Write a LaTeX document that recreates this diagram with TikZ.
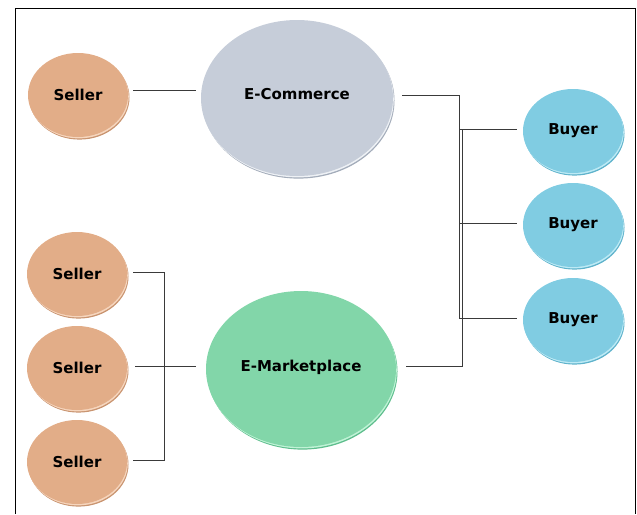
\documentclass[tikz,border=0pt]{standalone}
\usepackage{fontspec}
\setmainfont{DejaVu Sans}
\usetikzlibrary{shapes.geometric,shadows}
\definecolor{selC}{HTML}{E2AD88}
\definecolor{selD}{HTML}{C99470}
\definecolor{selL}{HTML}{F6D6BE}
\definecolor{ecC}{HTML}{C6CDD9}
\definecolor{ecD}{HTML}{A3ACBA}
\definecolor{ecL}{HTML}{EEF1F5}
\definecolor{buyC}{HTML}{80CCE2}
\definecolor{buyD}{HTML}{5EB2CB}
\definecolor{buyL}{HTML}{BDEAF5}
\definecolor{emC}{HTML}{82D6A9}
\definecolor{emD}{HTML}{5DBD8C}
\definecolor{emL}{HTML}{C0F3D6}
\definecolor{lineC}{HTML}{3A3A3A}
\tikzset{
  disc/.style n args={3}{ellipse, inner sep=0pt, fill=#1,
    general shadow={fill=#2, shadow xshift=1.5pt, shadow yshift=-2.6pt},
    general shadow={fill=#3, shadow xshift=0.8pt, shadow yshift=-1.4pt},
    font=\fontsize{15}{17}\selectfont\bfseries},
  small/.style={minimum width=100pt, minimum height=84pt},
  big/.style={minimum width=192pt, minimum height=156pt},
  conn/.style={draw=lineC, line width=0.8pt}
}
\begin{document}
\begin{tikzpicture}[x=1pt,y=-1pt]
\useasboundingbox (0,0) rectangle (637,514);
\draw[line width=1pt] (15,514) -- (15,8) -- (635,8) -- (635,514);
% nodes
\node[disc={selC}{selD}{selL}, small] (s1) at (78,95) {Seller};
\node[disc={selC}{selD}{selL}, small] (s2) at (77,274) {Seller};
\node[disc={selC}{selD}{selL}, small] (s3) at (77,368) {Seller};
\node[disc={selC}{selD}{selL}, small] (s4) at (77,462) {Seller};
\node[disc={ecC}{ecD}{ecL}, big] (ec) at (297,98) {\raisebox{-1.5pt}[0pt][0pt]{E-Commerce}};
\node[disc={emC}{emD}{emL}, minimum width=190pt, minimum height=156pt] (em) at (301,369) {\raisebox{-2.5pt}[0pt][0pt]{E-Marketplace}};
\node[disc={buyC}{buyD}{buyL}, small] (b1) at (573,131) {Buyer};
\node[disc={buyC}{buyD}{buyL}, small] (b2) at (573,225) {Buyer};
\node[disc={buyC}{buyD}{buyL}, small] (b3) at (573,320) {Buyer};
% junctions
\coordinate (ja) at (459,95);
\coordinate (jb) at (459,318);
\coordinate (jc) at (462,366);
\coordinate (jd) at (462,129);
\coordinate (jm) at (460,223);
\coordinate (la) at (164,272);
\coordinate (lb) at (164,460);
% connectors
\draw[conn] ([shift={(5pt,5pt)}]s1.east) -- ([shift={(-5pt,8pt)}]ec.west);
\draw[conn] ([shift={(9pt,3pt)}]ec.east) -- (ja) -- (jb);
\draw[conn] ([shift={(10pt,3pt)}]em.east) -- (jc) -- (jd);
\draw[conn] (jd -| ja) -- ([shift={(-6pt,2pt)}]b1.west);
\draw[conn] (jm) -- ([shift={(-6pt,2pt)}]b2.west);
\draw[conn] (jb) -- ([shift={(-6pt,2pt)}]b3.west);
\draw[conn] ([shift={(6pt,2pt)}]s2.east) -- (la) -- (lb) -- ([shift={(6pt,2pt)}]s4.east);
\draw[conn] ([shift={(8pt,2pt)}]s3.east) -- ([shift={(-10pt,3pt)}]em.west);
\end{tikzpicture}
\end{document}
